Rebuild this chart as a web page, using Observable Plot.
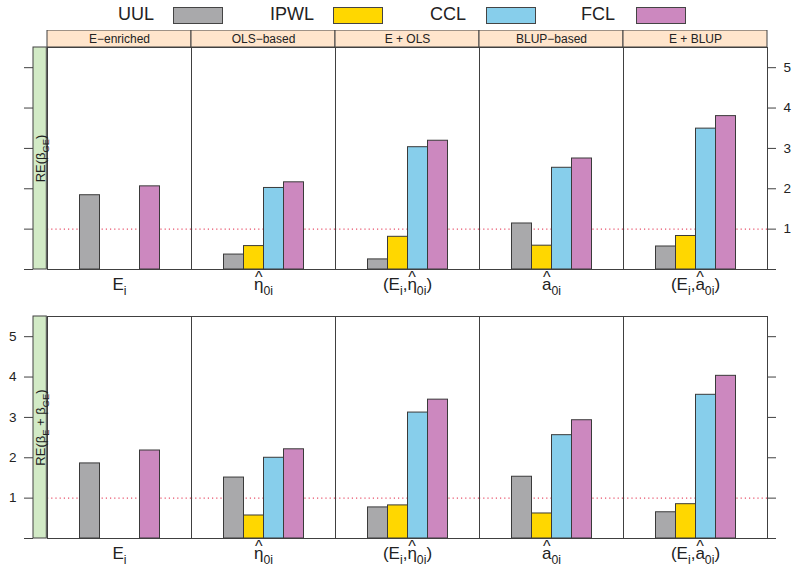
<!DOCTYPE html>
<html><head><meta charset="utf-8">
<script src="https://cdn.jsdelivr.net/npm/d3@7"></script>
<script src="https://cdn.jsdelivr.net/npm/@observablehq/plot@0.6"></script>
<style>
body{margin:0;background:#fff;font-family:"Liberation Sans",Arial,sans-serif;}
#wrap{position:relative;width:800px;height:572px;overflow:hidden;}
#legend{position:relative;height:30px;}
.lt{position:absolute;top:4px;width:80px;font-size:18px;line-height:21px;color:#222;text-align:right;}
.ls{position:absolute;top:7px;width:50px;height:17px;border:1px solid #444;box-sizing:border-box;}
</style></head><body>
<div id="wrap"><div id="legend"></div><div id="row1"></div><div id="row2"></div></div>
<script>
// ---- data ----
const columns = ["E\u2212enriched", "OLS\u2212based", "E + OLS", "BLUP\u2212based", "E + BLUP"];
// markup: _{..} subscript, ^{..} hat accent
const colLabels = ["E_{i}", "^{\u03B7}_{0i}", "(E_{i},^{\u03B7}_{0i})", "^{a}_{0i}", "(E_{i},^{a}_{0i})"];
const series = ["UUL", "IPWL", "CCL", "FCL"];
const colors = ["#a9a9ab", "#ffd700", "#87ceeb", "#cc88bf"];
const rowLabels = ["RE(\u03B2_{GE})", "RE(\u03B2_{E} + \u03B2_{GE})"];
const yTicks = [0, 1, 2, 3, 4, 5];
const refLine = [1];

// RE(beta_GE)
const topUUL  = [1.84, 0.37, 0.25, 1.14, 0.57];
const topIPWL = [null, 0.58, 0.81, 0.59, 0.83];
const topCCL  = [null, 2.02, 3.03, 2.52, 3.49];
const topFCL  = [2.06, 2.16, 3.19, 2.75, 3.80];
// RE(beta_E + beta_GE)
const botUUL  = [1.86, 1.51, 0.77, 1.53, 0.65];
const botIPWL = [null, 0.57, 0.82, 0.62, 0.85];
const botCCL  = [null, 2.00, 3.12, 2.56, 3.56];
const botFCL  = [2.18, 2.21, 3.44, 2.93, 4.03];

// ---- legend ----
const legTextRight = [154, 314, 466, 615];
const legSwatchLeft = [173, 333, 486, 636];
const leg = document.getElementById("legend");
series.forEach((s, i) => {
  const t = document.createElement("div");
  t.className = "lt"; t.textContent = s;
  t.style.left = (legTextRight[i] - 80) + "px";
  leg.appendChild(t);
  const b = document.createElement("div");
  b.className = "ls"; b.style.left = legSwatchLeft[i] + "px"; b.style.background = colors[i];
  leg.appendChild(b);
});

// ---- helpers ----
const FONT = "Liberation Sans, Arial, sans-serif";
function measure(svg, str, fs) {
  const t = d3.select(svg).append("text").attr("font-size", fs).attr("font-family", FONT).text(str);
  const w = t.node().getComputedTextLength();
  t.remove();
  return w;
}
function richify(svg) {
  d3.select(svg).selectAll("text").each(function () {
    const t = this.textContent;
    if (!t.includes("_{") && !t.includes("^{")) return;
    const fs = parseFloat(getComputedStyle(this).fontSize) || 13;
    const parts = t.split(/(_\{[^}]*\}|\^\{[^}]*\})/).filter(p => p);
    this.textContent = "";
    const el = d3.select(this);
    let baseDy = 0;      // current vertical offset relative to baseline
    let pendDx = 0, pendDy = 0;
    const add = (str, targetDy, size) => {
      const ts = el.append("tspan").text(str);
      if (size) ts.attr("font-size", size);
      const dy = targetDy - baseDy + pendDy;
      if (dy) ts.attr("dy", dy);
      if (pendDx) ts.attr("dx", pendDx);
      baseDy = targetDy + pendDy * 0; pendDx = 0; pendDy = 0;
      return ts;
    };
    for (const p of parts) {
      if (p.startsWith("_{")) {
        add(p.slice(2, -1), fs * 0.3, fs * 0.72);
      } else if (p.startsWith("^{")) {
        const base = p.slice(2, -1);
        add(base, 0);
        const cs = fs * 0.95;
        const wb = measure(svg, base, fs), wc = measure(svg, "^", cs);
        const up = -fs * 0.42;
        pendDx = -(wb / 2 + wc / 2);
        add("^", up, cs);
        pendDx = wb / 2 - wc / 2;
      } else {
        add(p, 0);
      }
    }
  });
}

const ML = 45.5, MR = 31, WIDTH = 800;
const W = (WIDTH - ML - MR) / columns.length;

function row(vals, {top, bottom, height, leftLabels, rightLabels, label, strip, target}) {
  const data = [];
  series.forEach((s, i) => vals[i].forEach((v, j) => {
    if (v != null) data.push({col: columns[j], series: s, value: v});
  }));
  const H = height - top - bottom;
  const marks = [];
  if (strip) {
    marks.push(Plot.rect(columns, {fx: d => d, insetTop: -17, insetBottom: H, fill: "#ffe5cc", stroke: "#404040"}));
    marks.push(Plot.text(columns, {fx: d => d, text: d => d, frameAnchor: "top", lineAnchor: "middle", dy: -8.5, fontSize: 12, fill: "#222"}));
  }
  marks.push(
    Plot.ruleY(refLine, {stroke: "#e8506a", strokeDasharray: "1.2,3", strokeWidth: 1.1}),
    Plot.barY(data, {fx: "col", x: "series", y: "value", fill: "series", stroke: "#3a3a3a", strokeWidth: 1}),
    Plot.frame({stroke: "#404040"}),
    Plot.rect([columns[0]], {fx: d => d, insetLeft: -14, insetRight: W, fill: "#d2eac6", stroke: "#404040"}),
    Plot.text([columns[0]], {fx: d => d, text: () => label, rotate: -90, frameAnchor: "left", textAnchor: "middle", lineAnchor: "middle", dx: -7, fontSize: 13, fill: "#222"}),
    Plot.text(columns, {fx: d => d, text: (d, i) => colLabels[i], frameAnchor: "bottom", lineAnchor: "middle", dy: 15, fontSize: 17, fill: "#222"}),
    Plot.axisY({anchor: "left", ticks: yTicks, tickSize: 9, tickPadding: 8, dx: -14, stroke: "#404040",
      tickFormat: d => (leftLabels && d !== 0 ? String(d) : ""), label: null, fontSize: 13.5}),
    Plot.axisY({anchor: "right", ticks: yTicks, tickSize: 8, tickPadding: 8, stroke: "#404040",
      tickFormat: d => (rightLabels && d !== 0 ? String(d) : ""), label: null, fontSize: 13.5})
  );
  const svg = Plot.plot({
    width: WIDTH, height,
    marginLeft: ML, marginRight: MR, marginTop: top, marginBottom: bottom,
    style: {fontFamily: FONT, fontSize: "13.5px", color: "#222", background: "transparent"},
    fx: {domain: columns, padding: 0, axis: null},
    x: {domain: series, paddingInner: 0, paddingOuter: 1.59, axis: null},
    y: {domain: [0, 5.5]},
    color: {domain: series, range: colors},
    marks
  });
  document.getElementById(target).appendChild(svg);
  richify(svg);
}

row([topUUL, topIPWL, topCCL, topFCL], {top: 17, bottom: 31, height: 270, leftLabels: false, rightLabels: true, label: rowLabels[0], strip: true, target: "row1"});
row([botUUL, botIPWL, botCCL, botFCL], {top: 16, bottom: 34, height: 272, leftLabels: true, rightLabels: false, label: rowLabels[1], strip: false, target: "row2"});
</script>
</body></html>
